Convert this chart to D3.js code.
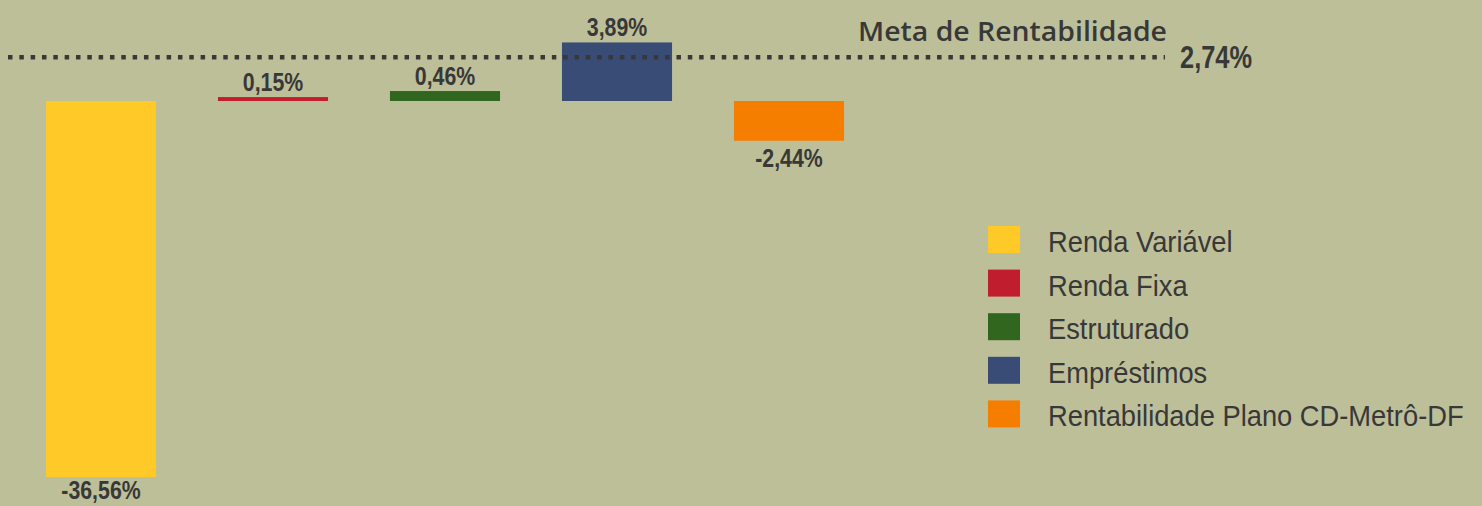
<!DOCTYPE html>
<html>
<head>
<meta charset="utf-8">
<script src="https://cdn.jsdelivr.net/npm/d3@7"></script>
<style>
  body { margin: 0; background: #bdbf99; }
  svg { display: block; }
</style>
</head>
<body>
<svg id="chart"></svg>
<script>
// data
var categories = ["Renda Variável", "Renda Fixa", "Estruturado", "Empréstimos", "Rentabilidade Plano CD-Metrô-DF"];
var values = [-36.56, 0.15, 0.46, 3.89, -2.44];
var colors = ["#ffc928", "#c01e2e", "#31661f", "#384c75", "#f57e00"];
var metaLabel = "Meta de Rentabilidade";
var metaValue = 2.74;

var width = 1482, height = 506;

var svg = d3.select("#chart")
    .attr("width", width)
    .attr("height", height);

svg.append("rect")
    .attr("width", width)
    .attr("height", height)
    .attr("fill", "#bdbf99");

// brazilian format, plain hyphen for the minus
var fmt = function(v){
    return (v < 0 ? "-" : "") + Math.abs(v).toFixed(2).replace(".", ",") + "%";
};

//Define Scales
var x = d3.scaleBand()
    .domain(categories)
    .range([15, 875])
    .paddingInner(0.36)
    .paddingOuter(0.18);

// bars are not drawn to a linear scale in the original, a power scale gets close
var y = d3.scalePow()
    .exponent(0.83)
    .domain([d3.min(values), 0])
    .range([477, 101]);

// narrow bold: arial squeezed like Arial Narrow
var valueFont = "'Liberation Sans', Arial, sans-serif";
var narrow = 0.82;
var textColor = "#383838";

//Draw bars
var bars = svg.selectAll("g.bar")
    .data(categories)
    .enter()
    .append("g")
    .attr("class", "bar");

bars.append("rect")
    .attr("x", function(d){ return x(d); })
    .attr("y", function(d, i){ return Math.min(y(values[i]), y(0)); })
    .attr("width", x.bandwidth())
    .attr("height", function(d, i){ return Math.abs(y(values[i]) - y(0)); })
    .attr("fill", function(d, i){ return colors[i]; });

bars.append("text")
    .attr("transform", function(d, i){
        var tx = x(d) + x.bandwidth()/2;
        var ty = values[i] >= 0 ? y(values[i]) - 6 : Math.min(y(values[i]) + 26, 499);
        return "translate(" + tx + "," + ty + ") scale(" + narrow + ",1)";
    })
    .attr("text-anchor", "middle")
    .style("font-family", valueFont)
    .style("font-weight", "bold")
    .style("font-size", "26px")
    .style("fill", textColor)
    .text(function(d, i){ return fmt(values[i]); });

//meta line
var metaY = y(metaValue);

svg.append("line")
    .attr("x1", 8)
    .attr("x2", 1165)
    .attr("y1", metaY)
    .attr("y2", metaY)
    .style("stroke", "#383838")
    .style("stroke-width", 4.5)
    .style("stroke-dasharray", "4.5, 6.83");

svg.append("text")
    .attr("x", 858)
    .attr("y", metaY - 16)
    .attr("textLength", 309)
    .attr("lengthAdjust", "spacingAndGlyphs")
    .style("font-family", "'Open Sans', Lato, sans-serif")
    .style("font-weight", "600")
    .style("font-size", "27px")
    .style("fill", textColor)
    .text(metaLabel);

svg.append("text")
    .attr("transform", "translate(1180," + (metaY + 11) + ") scale(" + narrow + ",1)")
    .style("font-family", valueFont)
    .style("font-weight", "bold")
    .style("font-size", "31px")
    .style("fill", textColor)
    .text(fmt(metaValue));

//legend
var legend = svg.selectAll("g.legend")
    .data(categories)
    .enter()
    .append("g")
    .attr("class", "legend")
    .attr("transform", function(d, i){
        return "translate(988," + (226 + i*43.6) + ")";
    });

legend.append("rect")
    .attr("width", 32)
    .attr("height", 27)
    .attr("fill", function(d, i){ return colors[i]; });

legend.append("text")
    .attr("transform", "translate(60,26) scale(0.91,1)")
    .style("font-family", "'Liberation Sans', Arial, sans-serif")
    .style("font-size", "30px")
    .style("fill", textColor)
    .text(function(d){ return d; });
</script>
</body>
</html>
